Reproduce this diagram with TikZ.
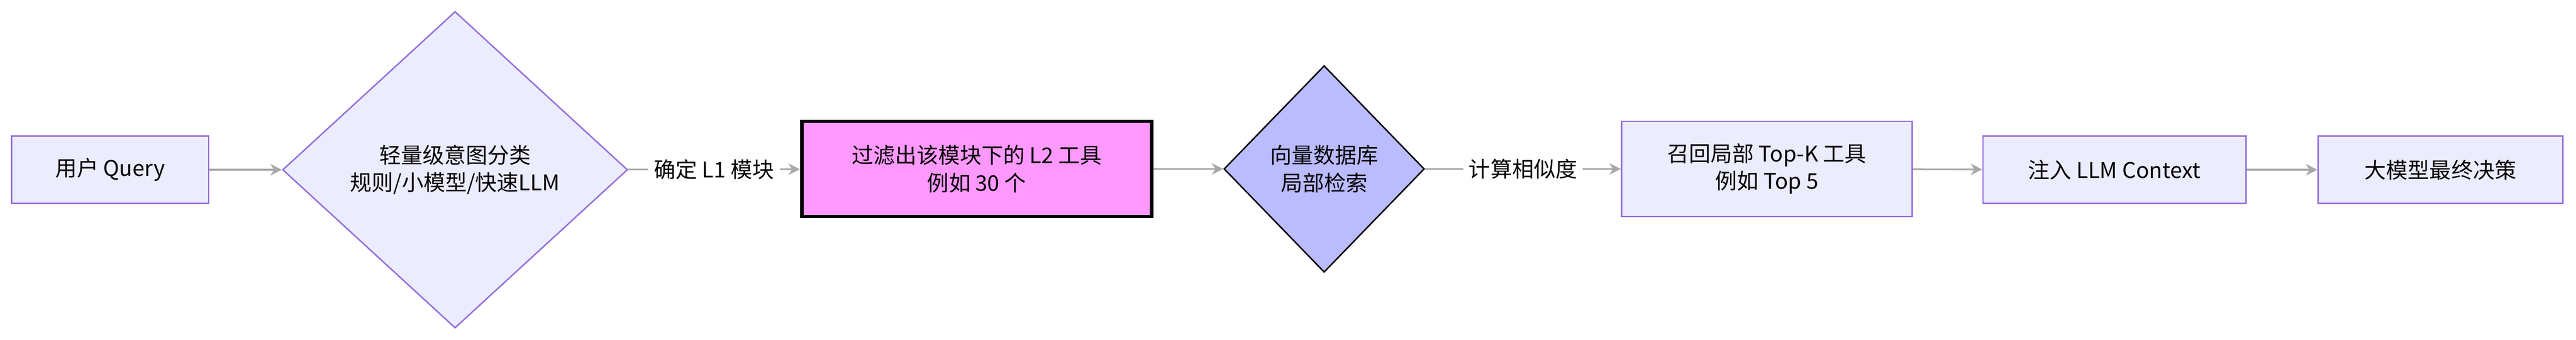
\documentclass[tikz,border=0pt]{standalone}
\usepackage{fontspec}
\setmainfont{Noto Sans CJK SC}
\usetikzlibrary{shapes.geometric,arrows.meta}
\definecolor{nodefill}{HTML}{ECECFF}
\definecolor{nodeline}{HTML}{9370DB}
\definecolor{edgegray}{HTML}{A8A8A8}
\definecolor{pinkfill}{HTML}{FF99FF}
\definecolor{bluefill}{HTML}{BBBBFF}
\tikzset{
  box/.style={draw=nodeline, fill=nodefill, line width=0.5pt, align=center, font=\fontsize{7.5}{9.5}\selectfont},
  dia/.style={diamond, draw=nodeline, fill=nodefill, line width=0.5pt, align=center, inner sep=0pt, font=\fontsize{7.5}{9.5}\selectfont},
  edge/.style={draw=edgegray, line width=0.6pt, -{Stealth[length=4pt,width=4pt]}},
  lbl/.style={fill=white, font=\fontsize{7.5}{9.5}\selectfont, inner sep=2pt}
}
\begin{document}
\begin{tikzpicture}[x=0.02cm, y=-0.02cm]
    \useasboundingbox (0,0) rectangle (1568,207);

    \node[box, minimum width=120*0.02cm, minimum height=41*0.02cm] (query) at (67,103.5) {用户 Query};
    \node[dia, minimum width=210*0.02cm, minimum height=193*0.02cm] (classify) at (277,103.5) {轻量级意图分类\\规则/小模型/快速LLM};
    \node[box, draw=black, fill=pinkfill, line width=1.2pt, minimum width=213*0.02cm, minimum height=58*0.02cm] (filter) at (594.5,103) {过滤出该模块下的 L2 工具\\例如 30 个};
    \node[dia, draw=black, fill=bluefill, minimum width=122*0.02cm, minimum height=126*0.02cm] (vecdb) at (806,103) {向量数据库\\局部检索};
    \node[box, minimum width=177*0.02cm, minimum height=58*0.02cm] (recall) at (1075.5,103) {召回局部 Top-K 工具\\例如 Top 5};
    \node[box, minimum width=160*0.02cm, minimum height=41*0.02cm] (inject) at (1287,103.5) {注入 LLM Context};
    \node[box, minimum width=149*0.02cm, minimum height=41*0.02cm] (decide) at (1485.5,103.5) {大模型最终决策};

    \draw[edge] (query) -- (classify);
    \draw[edge] (classify) -- node[lbl] {确定 L1 模块} (filter);
    \draw[edge] (filter) -- (vecdb);
    \draw[edge] (vecdb) -- node[lbl] {计算相似度} (recall);
    \draw[edge] (recall) -- (inject);
    \draw[edge] (inject) -- (decide);
\end{tikzpicture}
\end{document}
